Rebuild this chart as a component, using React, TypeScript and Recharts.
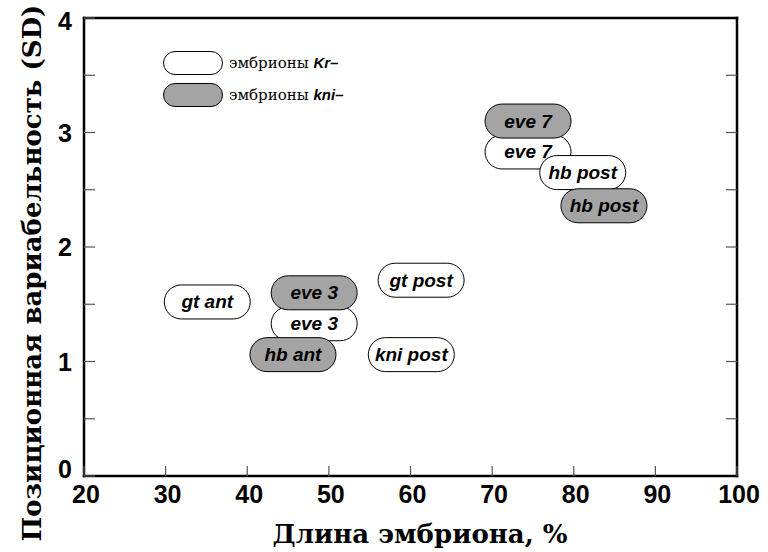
import { ScatterChart, Scatter, XAxis, YAxis, Legend } from 'recharts'

// Kr– embryos (white pills)
const krLabels = ['gt ant', 'eve 3', 'gt post', 'kni post', 'eve 7', 'hb post']
const krX = [35.1, 48.2, 61.3, 60.1, 74.4, 81.1]
const krY = [1.52, 1.33, 1.71, 1.06, 2.83, 2.65]

// kni– embryos (grey pills)
const kniLabels = ['eve 3', 'hb ant', 'eve 7', 'hb post']
const kniX = [48.2, 45.6, 74.4, 83.7]
const kniY = [1.6, 1.06, 3.1, 2.36]

const xTicks = [20, 30, 40, 50, 60, 70, 80, 90, 100]
const yTicks = [0, 0.5, 1, 1.5, 2, 2.5, 3, 3.5, 4]

const GREY = '#a4a4a4'
const SERIF = '"DejaVu Serif", serif'
const SANS = '"Liberation Sans", Arial, sans-serif'

const krData = krLabels.map((label, i) => ({ label, x: krX[i], y: krY[i] }))
const kniData = kniLabels.map((label, i) => ({ label, x: kniX[i], y: kniY[i] }))

const pill = (fill: string) => (props: any) => {
  const { cx, cy, payload } = props
  const w = 86
  const h = 34
  return (
    <g>
      <rect x={cx - w / 2} y={cy - h / 2} width={w} height={h} rx={h / 2} fill={fill} stroke="#000" strokeWidth={1} />
      <text
        x={cx}
        y={cy}
        textAnchor="middle"
        dominantBaseline="central"
        fontFamily={SANS}
        fontWeight="bold"
        fontStyle="italic"
        fontSize={19}
        fill="#000"
      >
        {payload.label}
      </text>
    </g>
  )
}

const BottomTick = (props: any) => {
  const { x, y, payload } = props
  return (
    <g>
      <line x1={x} y1={y} x2={x} y2={y - 10} stroke="#555" strokeWidth={1.2} />
      <text x={x + 2} y={y + 27} textAnchor="middle" fontFamily={SANS} fontWeight="bold" fontSize={25} fill="#000">
        {payload.value}
      </text>
    </g>
  )
}

const TopTick = (props: any) => {
  const { x, y } = props
  return <line x1={x} y1={y} x2={x} y2={y + 10} stroke="#555" strokeWidth={1.2} />
}

const LeftTick = (props: any) => {
  const { x, y, payload } = props
  const v = payload.value
  const shift = v === 0 ? -7 : v === 4 ? 3 : 0
  return (
    <g>
      <line x1={x} y1={y} x2={x + 11} y2={y} stroke="#555" strokeWidth={1.2} />
      {Number.isInteger(v) && (
        <text x={x - 12} y={y + shift} textAnchor="end" dominantBaseline="central" fontFamily={SANS} fontWeight="bold" fontSize={25} fill="#000">
          {v}
        </text>
      )}
    </g>
  )
}

const RightTick = (props: any) => {
  const { x, y } = props
  return <line x1={x} y1={y} x2={x - 11} y2={y} stroke="#555" strokeWidth={1.2} />
}

const LegendBox = () => (
  <div style={{ display: 'flex', flexDirection: 'column', gap: 8 }}>
    {[
      { fill: '#fff', name: 'Kr–' },
      { fill: GREY, name: 'kni–' },
    ].map((item) => (
      <div key={item.name} style={{ display: 'flex', alignItems: 'center' }}>
        <div
          style={{
            width: 60,
            height: 24,
            borderRadius: 12,
            border: '1px solid #000',
            background: item.fill,
            boxSizing: 'border-box',
          }}
        />
        <span style={{ marginLeft: 6, fontFamily: SERIF, fontSize: 15 }}>
          эмбрионы{' '}
          <span style={{ fontFamily: SANS, fontWeight: 'bold', fontStyle: 'italic' }}>{item.name}</span>
        </span>
      </div>
    ))}
  </div>
)

const axisLine = { stroke: '#000', strokeWidth: 2.5, strokeLinecap: 'square' as const }

export default function App() {
  return (
    <div style={{ position: 'absolute', left: 0, top: 0, width: 768, height: 552, background: '#fff' }}>
      <ScatterChart width={768} height={552} margin={{ top: 0, right: 0, bottom: 0, left: 0 }}>
        <XAxis
          dataKey="x"
          type="number"
          domain={[20, 100]}
          ticks={xTicks}
          allowDataOverflow
          height={76}
          tickSize={0}
          tickMargin={0}
          tickLine={false}
          axisLine={axisLine}
          tick={<BottomTick />}
          interval={0}
        />
        <XAxis
          xAxisId="top"
          orientation="top"
          type="number"
          domain={[20, 100]}
          ticks={xTicks.slice(1, -1)}
          allowDataOverflow
          height={18}
          tickSize={0}
          tickMargin={0}
          tickLine={false}
          axisLine={axisLine}
          tick={<TopTick />}
          interval={0}
        />
        <YAxis
          dataKey="y"
          type="number"
          domain={[0, 4]}
          ticks={yTicks}
          allowDataOverflow
          width={84}
          tickSize={0}
          tickMargin={0}
          tickLine={false}
          axisLine={axisLine}
          tick={<LeftTick />}
          interval={0}
        />
        <YAxis
          yAxisId="right"
          orientation="right"
          type="number"
          domain={[0, 4]}
          ticks={yTicks.slice(1, -1)}
          allowDataOverflow
          width={31}
          tickSize={0}
          tickMargin={0}
          tickLine={false}
          axisLine={axisLine}
          tick={<RightTick />}
          interval={0}
        />
        <Legend
          layout="horizontal"
          verticalAlign="middle"
          align="center"
          content={<LegendBox />}
          wrapperStyle={{ position: 'absolute', top: 51, left: 163, width: 'auto' }}
        />
        <Scatter name="Kr–" data={krData} shape={pill('#fff')} isAnimationActive={false} />
        <Scatter name="kni–" data={kniData} shape={pill(GREY)} isAnimationActive={false} />
        <text x={420} y={543} textAnchor="middle" fontFamily={SERIF} fontWeight="bold" fontSize={26} fill="#000">
          Длина эмбриона, %
        </text>
        <text
          x={0}
          y={0}
          transform="translate(41, 273) rotate(-90)"
          textAnchor="middle"
          fontFamily={SERIF}
          fontWeight="bold"
          fontSize={26}
          fill="#000"
        >
          Позиционная вариабельность (SD)
        </text>
      </ScatterChart>
    </div>
  )
}
